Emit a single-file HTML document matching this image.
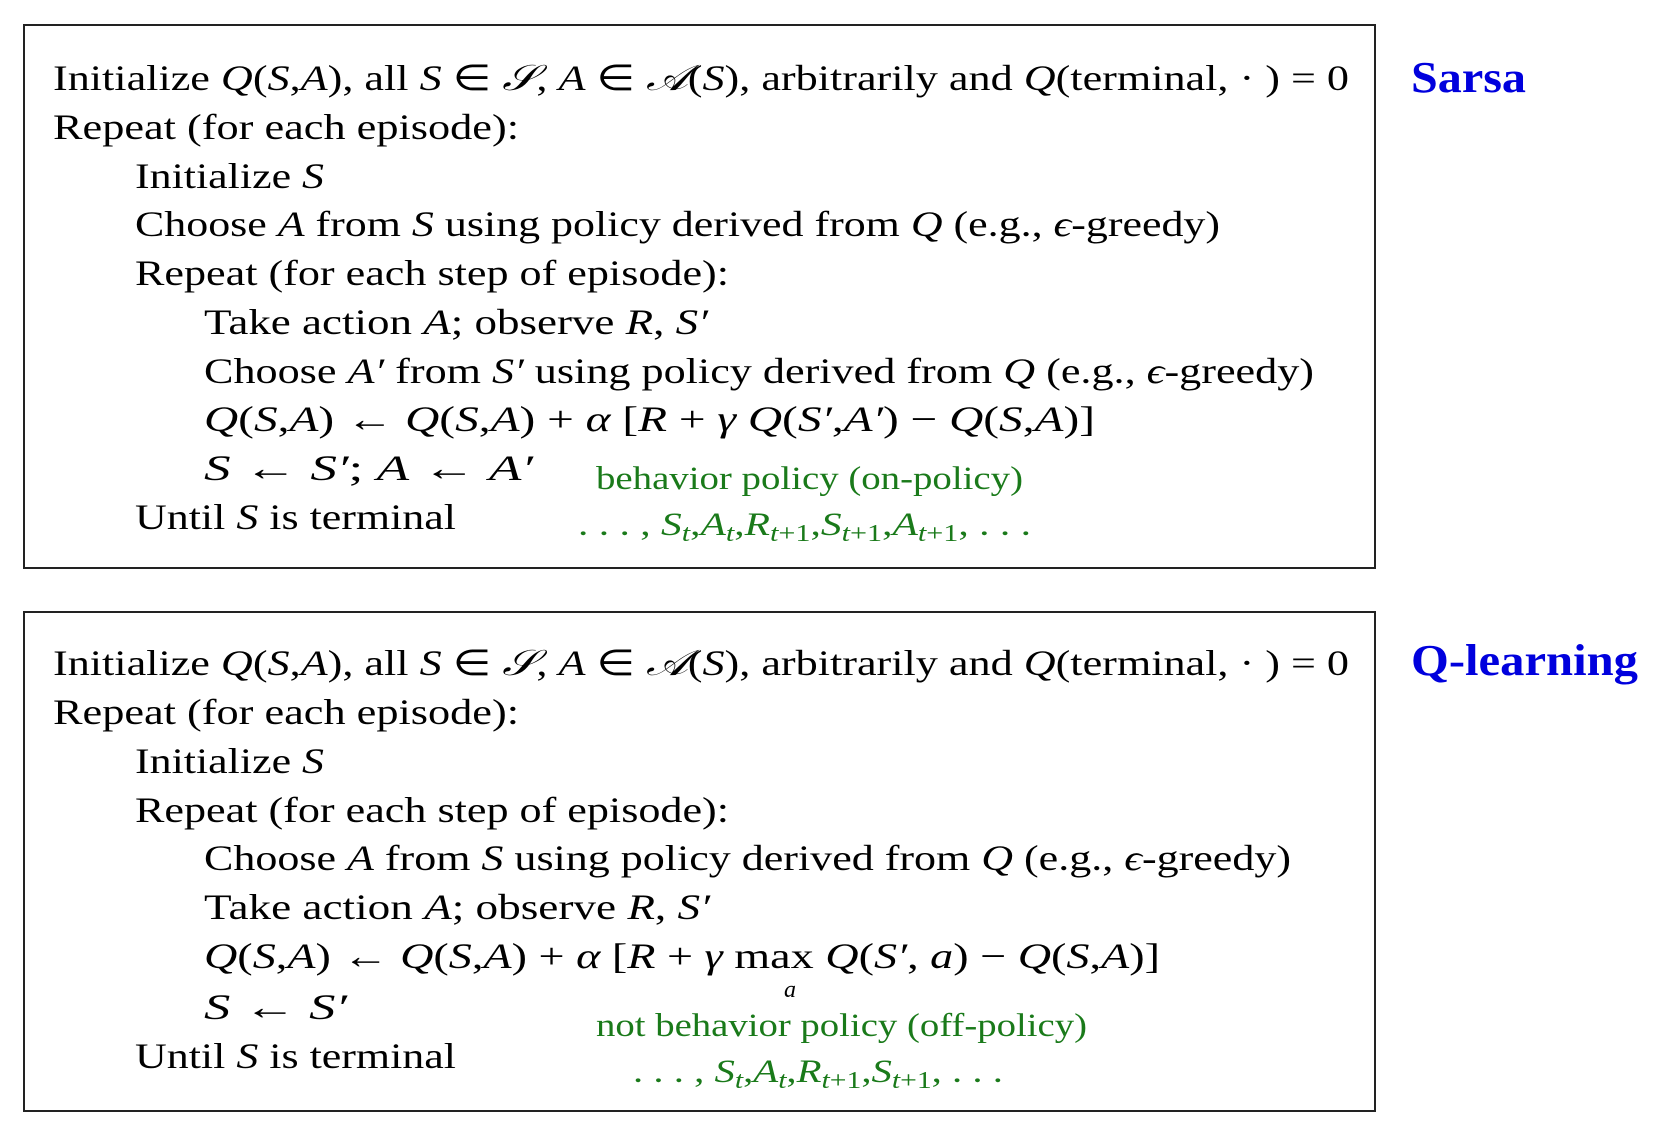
<!DOCTYPE html>
<html><head><meta charset="utf-8"><style>
html,body{margin:0;padding:0;background:#fff;}
svg{display:block;}
text{font-family:"Liberation Serif",serif;font-size:36px;fill:#000;}
.i{font-style:italic;}
.g{fill:#1a7a1a;font-size:33px;}
.t{fill:#0000dd;font-weight:bold;font-size:44px;}
.s{font-size:24px;}
</style></head><body>
<svg width="1654" height="1122" viewBox="0 0 1654 1122">
<rect x="24" y="25" width="1351" height="543" fill="none" stroke="#222" stroke-width="2"/>
<rect x="24" y="612" width="1351" height="499" fill="none" stroke="#222" stroke-width="2"/>
<text class="t" x="1411" y="92" textLength="115" lengthAdjust="spacingAndGlyphs">Sarsa</text>
<text class="t" x="1411" y="675" textLength="227" lengthAdjust="spacingAndGlyphs">Q-learning</text>

<g>
<text x="53" y="90" textLength="1296" lengthAdjust="spacingAndGlyphs">Initialize  <tspan class="i">Q</tspan>(<tspan class="i">S</tspan>,<tspan class="i">A</tspan>),  all <tspan class="i">S</tspan> ∈ <tspan class="i">𝒮</tspan>, <tspan class="i">A</tspan> ∈ <tspan class="i">𝒜</tspan>(<tspan class="i">S</tspan>),  arbitrarily and  <tspan class="i">Q</tspan>(terminal, · ) = 0</text>
<text x="53" y="139" textLength="466" lengthAdjust="spacingAndGlyphs">Repeat (for each episode):</text>
<text x="135" y="188" textLength="189" lengthAdjust="spacingAndGlyphs">Initialize <tspan class="i">S</tspan></text>
<text x="135" y="236" textLength="1085" lengthAdjust="spacingAndGlyphs">Choose <tspan class="i">A</tspan> from <tspan class="i">S</tspan> using policy derived from <tspan class="i">Q</tspan> (e.g., <tspan class="i">ϵ</tspan>-greedy)</text>
<text x="135" y="285" textLength="594" lengthAdjust="spacingAndGlyphs">Repeat (for each step of episode):</text>
<text x="204" y="334" textLength="504" lengthAdjust="spacingAndGlyphs">Take action <tspan class="i">A</tspan>;  observe <tspan class="i">R</tspan>, <tspan class="i">S′</tspan></text>
<text x="204" y="383" textLength="1110" lengthAdjust="spacingAndGlyphs">Choose <tspan class="i">A′</tspan> from <tspan class="i">S′</tspan> using policy derived from <tspan class="i">Q</tspan> (e.g., <tspan class="i">ϵ</tspan>-greedy)</text>
<text x="204" y="431" textLength="891" lengthAdjust="spacingAndGlyphs"><tspan class="i">Q</tspan>(<tspan class="i">S</tspan>,<tspan class="i">A</tspan>)  ←  <tspan class="i">Q</tspan>(<tspan class="i">S</tspan>,<tspan class="i">A</tspan>) + <tspan class="i">α</tspan> [<tspan class="i">R</tspan> + <tspan class="i">γ Q</tspan>(<tspan class="i">S′</tspan>,<tspan class="i">A′</tspan>) − <tspan class="i">Q</tspan>(<tspan class="i">S</tspan>,<tspan class="i">A</tspan>)]</text>
<text x="204" y="480" textLength="329" lengthAdjust="spacingAndGlyphs"><tspan class="i">S</tspan>  ←  <tspan class="i">S′</tspan>;  <tspan class="i">A</tspan>  ←  <tspan class="i">A′</tspan></text>
<text x="135" y="529" textLength="321" lengthAdjust="spacingAndGlyphs">Until <tspan class="i">S</tspan> is terminal</text>
<text class="g" x="596" y="489" textLength="427" lengthAdjust="spacingAndGlyphs">behavior policy (on-policy)</text>
<text class="g" x="578" y="535" textLength="453" lengthAdjust="spacingAndGlyphs">. . . , <tspan class="i">S</tspan><tspan class="i s" dy="6">t</tspan><tspan dy="-6">,</tspan><tspan class="i">A</tspan><tspan class="i s" dy="6">t</tspan><tspan dy="-6">,</tspan><tspan class="i">R</tspan><tspan class="s" dy="6"><tspan class="i">t</tspan>+1</tspan><tspan dy="-6">,</tspan><tspan class="i">S</tspan><tspan class="s" dy="6"><tspan class="i">t</tspan>+1</tspan><tspan dy="-6">,</tspan><tspan class="i">A</tspan><tspan class="s" dy="6"><tspan class="i">t</tspan>+1</tspan><tspan dy="-6">, . . .</tspan></text>
</g>

<g>
<text x="53" y="675" textLength="1296" lengthAdjust="spacingAndGlyphs">Initialize  <tspan class="i">Q</tspan>(<tspan class="i">S</tspan>,<tspan class="i">A</tspan>),  all <tspan class="i">S</tspan> ∈ <tspan class="i">𝒮</tspan>, <tspan class="i">A</tspan> ∈ <tspan class="i">𝒜</tspan>(<tspan class="i">S</tspan>),  arbitrarily and  <tspan class="i">Q</tspan>(terminal, · ) = 0</text>
<text x="53" y="724" textLength="466" lengthAdjust="spacingAndGlyphs">Repeat (for each episode):</text>
<text x="135" y="773" textLength="189" lengthAdjust="spacingAndGlyphs">Initialize <tspan class="i">S</tspan></text>
<text x="135" y="822" textLength="594" lengthAdjust="spacingAndGlyphs">Repeat (for each step of episode):</text>
<text x="204" y="870" textLength="1087" lengthAdjust="spacingAndGlyphs">Choose <tspan class="i">A</tspan> from <tspan class="i">S</tspan> using policy derived from <tspan class="i">Q</tspan> (e.g., <tspan class="i">ϵ</tspan>-greedy)</text>
<text x="204" y="919" textLength="506" lengthAdjust="spacingAndGlyphs">Take action <tspan class="i">A</tspan>;  observe <tspan class="i">R</tspan>, <tspan class="i">S′</tspan></text>
<text x="204" y="968" textLength="956" lengthAdjust="spacingAndGlyphs"><tspan class="i">Q</tspan>(<tspan class="i">S</tspan>,<tspan class="i">A</tspan>)  ←  <tspan class="i">Q</tspan>(<tspan class="i">S</tspan>,<tspan class="i">A</tspan>) + <tspan class="i">α</tspan> [<tspan class="i">R</tspan> + <tspan class="i">γ</tspan> max <tspan class="i">Q</tspan>(<tspan class="i">S′</tspan>, <tspan class="i">a</tspan>) − <tspan class="i">Q</tspan>(<tspan class="i">S</tspan>,<tspan class="i">A</tspan>)]</text>
<text class="i s" x="784" y="997">a</text>
<text x="204" y="1019" textLength="143" lengthAdjust="spacingAndGlyphs"><tspan class="i">S</tspan>  ←  <tspan class="i">S′</tspan></text>
<text x="135" y="1068" textLength="321" lengthAdjust="spacingAndGlyphs">Until <tspan class="i">S</tspan> is terminal</text>
<text class="g" x="596" y="1036" textLength="491" lengthAdjust="spacingAndGlyphs">not behavior policy (off-policy)</text>
<text class="g" x="633" y="1082" textLength="370" lengthAdjust="spacingAndGlyphs">. . . , <tspan class="i">S</tspan><tspan class="i s" dy="6">t</tspan><tspan dy="-6">,</tspan><tspan class="i">A</tspan><tspan class="i s" dy="6">t</tspan><tspan dy="-6">,</tspan><tspan class="i">R</tspan><tspan class="s" dy="6"><tspan class="i">t</tspan>+1</tspan><tspan dy="-6">,</tspan><tspan class="i">S</tspan><tspan class="s" dy="6"><tspan class="i">t</tspan>+1</tspan><tspan dy="-6">, . . .</tspan></text>
</g>
</svg>
</body></html>
